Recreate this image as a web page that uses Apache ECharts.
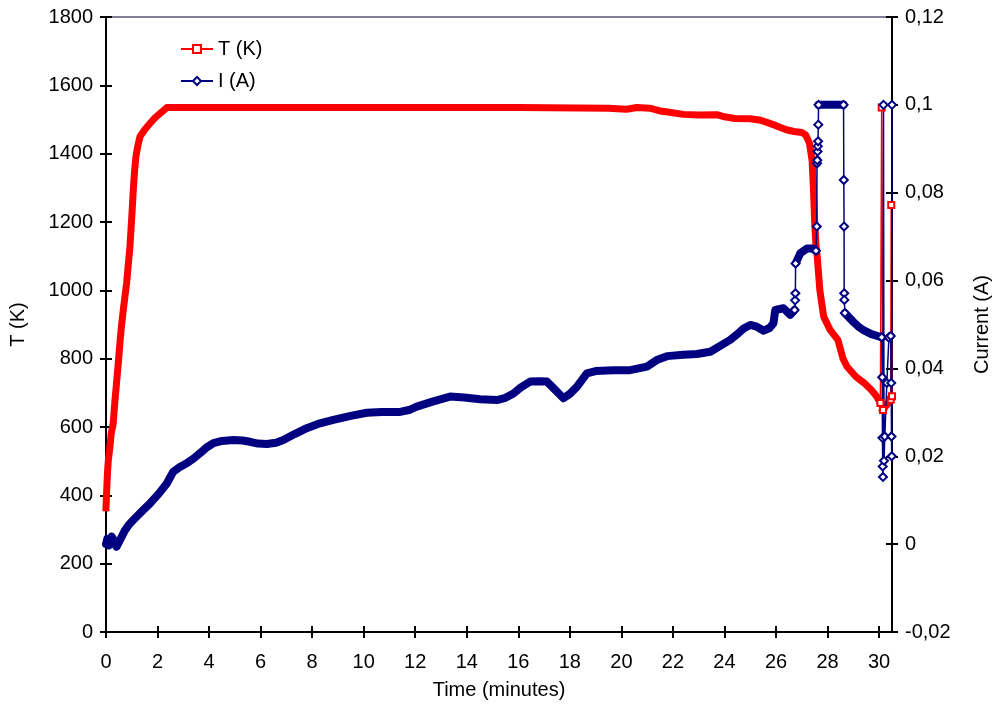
<!DOCTYPE html>
<html>
<head>
<meta charset="utf-8">
<script src="https://cdn.jsdelivr.net/npm/echarts@6/dist/echarts.min.js"></script>
<style>
  html, body { margin: 0; padding: 0; background: #fff; }
  #chart { width: 997px; height: 707px; }
</style>
</head>
<body>
<div id="chart"></div>
<script>
// Temperature record, time in minutes and T in kelvin
const tempTime = [0.00, 0.03, 0.06, 0.09, 0.15, 0.20, 0.28, 0.35, 0.41, 0.48, 0.54, 0.60, 0.67, 0.74, 0.80, 0.87, 0.93,
  1.00, 1.06, 1.11, 1.16, 1.24, 1.32, 1.50, 1.71, 1.90, 2.10, 2.36, 4.00, 8.00, 12.00, 16.00, 19.50, 20.20, 20.60,
  21.10, 21.50, 21.80, 22.40, 23.00, 23.70, 24.00, 24.40, 25.00, 25.40, 25.70, 26.00, 26.40, 26.70, 27.00, 27.15,
  27.30, 27.40, 27.45, 27.50, 27.55, 27.60, 27.70, 27.85, 28.10, 28.40, 28.60, 28.75, 29.10, 29.40, 29.70, 29.90,
  30.05, 30.10, 30.15, 30.30, 30.45, 30.47, 30.50];
const tempK = [363, 420, 470, 503, 540, 580, 611, 680, 729, 790, 846, 895, 942, 985, 1021, 1080, 1128,
  1215, 1294, 1350, 1391, 1425, 1450, 1470, 1489, 1505, 1518, 1535, 1535, 1535, 1535, 1535, 1533, 1530, 1535,
  1533, 1525, 1522, 1515, 1513, 1514, 1508, 1503, 1502, 1498, 1490, 1482, 1470, 1465, 1462, 1455,
  1430, 1380, 1300, 1200, 1130, 1098, 1000, 923, 884, 855, 800, 777, 747, 730, 708, 690,
  670, 1535, 650, 665, 680, 1250, 690];

// Current record, time in minutes and I in ampere
const currTime = [0.00, 0.05, 0.12, 0.22, 0.32, 0.41, 0.55, 0.74, 0.90, 1.06, 1.40, 1.71, 2.05, 2.36, 2.61, 2.85,
  3.13, 3.40, 3.65, 3.90, 4.17, 4.50, 4.94, 5.30, 5.59, 5.90, 6.24, 6.60, 6.88, 7.30, 7.79, 8.30, 8.82, 9.50,
  10.12, 10.70, 11.41, 11.80, 12.06, 12.70, 13.35, 13.90, 14.52, 15.17, 15.50, 15.81, 16.10, 16.46, 16.80, 17.11,
  17.45, 17.75, 18.00, 18.27, 18.66, 19.00, 19.69, 20.34, 20.99, 21.40, 21.77, 22.40, 22.93, 23.45, 23.85, 24.22,
  24.50, 24.74, 25.00, 25.25, 25.52, 25.75, 25.90, 25.97, 26.29, 26.55, 26.67, 26.72, 26.74, 26.75, 26.76, 26.94,
  27.20, 27.40, 27.55, 27.58, 27.59, 27.60, 27.61, 27.62, 27.63, 27.64, 27.65, 28.00, 28.62, 28.63, 28.64, 28.645,
  28.65, 28.67, 29.00, 29.20, 29.40, 29.70, 30.03, 30.10, 30.12, 30.13, 30.14, 30.15, 30.17, 30.19, 30.22, 30.30,
  30.38, 30.45, 30.47, 30.48, 30.49, 30.50];
const currA = [0.0000, 0.0012, -0.0003, 0.0017, 0.0008, -0.0006, 0.0010, 0.0032, 0.0045, 0.0055, 0.0075, 0.0093, 0.0115, 0.0138, 0.0165, 0.0175,
  0.0184, 0.0195, 0.0207, 0.0220, 0.0230, 0.0235, 0.0237, 0.0236, 0.0233, 0.0229, 0.0228, 0.0231, 0.0237, 0.0250, 0.0264, 0.0275, 0.0283, 0.0292,
  0.0299, 0.0301, 0.0301, 0.0306, 0.0313, 0.0325, 0.0336, 0.0334, 0.0330, 0.0328, 0.0333, 0.0343, 0.0357, 0.0370, 0.0371, 0.0370,
  0.0350, 0.0332, 0.0342, 0.0358, 0.0389, 0.0394, 0.0396, 0.0396, 0.0404, 0.0420, 0.0428, 0.0431, 0.0433, 0.0438, 0.0452, 0.0465,
  0.0478, 0.0491, 0.0499, 0.0495, 0.0486, 0.0492, 0.0503, 0.0533, 0.0537, 0.0522, 0.0530, 0.0533, 0.0555, 0.0571, 0.0639, 0.0662,
  0.0673, 0.0673, 0.0668, 0.0723, 0.0867, 0.0874, 0.0894, 0.0906, 0.0917, 0.0955, 0.1000, 0.1000, 0.1000, 0.0829, 0.0723, 0.0571,
  0.0556, 0.0526, 0.0506, 0.0495, 0.0487, 0.0478, 0.0472, 0.0471, 0.0380, 0.0242, 0.0177, 0.0153, 0.1000, 0.0190, 0.0245, 0.0367,
  0.0470, 0.0474, 0.0367, 0.0245, 0.0200, 0.1000];

// Axis ticks
const timeTicks = { min: 0, max: 30.5, step: 2 };
const tempTicks = { min: 0, max: 1800, step: 200 };
const currTicks = { min: -0.02, max: 0.12, step: 0.02 };

// Densely logged stretches are drawn as a solid band; fast jumps, where the
// logger points are spread out, are drawn as a thin line with open markers.
function isFast(xs, ys, i, rate) {
  return Math.abs(ys[i + 1] - ys[i]) / (xs[i + 1] - xs[i]) > rate;
}
function collectSteps(xs, ys, keepStep) {
  const out = [];
  let last = -2;
  for (let i = 0; i < xs.length - 1; i++) {
    if (!keepStep(i)) continue;
    if (last !== i) {
      if (out.length) out.push([xs[i], '-']);
      out.push([xs[i], ys[i]]);
    }
    out.push([xs[i + 1], ys[i + 1]]);
    last = i + 1;
  }
  return out;
}
const TEMP_RATE = 5000;   // K per minute
const CURR_RATE = 0.1;    // A per minute
const tempBand = collectSteps(tempTime, tempK, i => !isFast(tempTime, tempK, i, TEMP_RATE));
const tempJump = collectSteps(tempTime, tempK, i => isFast(tempTime, tempK, i, TEMP_RATE));
const currBand = collectSteps(currTime, currA, i => !isFast(currTime, currA, i, CURR_RATE));
const currJump = collectSteps(currTime, currA, i => isFast(currTime, currA, i, CURR_RATE));

const FONT = 'Liberation Sans, Arial, sans-serif';
const RED = '#ff0000';
const NAVY = '#000080';

function fmtComma(v) {
  const r = Math.round(v * 100) / 100;
  return String(r).replace('.', ',');
}

const axisLine = { show: true, onZero: false, lineStyle: { color: '#000', width: 2 } };
const noLine = { show: false, onZero: false };
const tickOut = { show: true, inside: false, length: 6, lineStyle: { color: '#000', width: 2 } };
const tickIn = { show: true, inside: true, length: 6, lineStyle: { color: '#000', width: 2 } };
const labelStyle = { color: '#000', fontSize: 20, fontFamily: FONT };

function xAx(main) {
  return {
    type: 'value', position: 'bottom',
    min: timeTicks.min, max: timeTicks.max, interval: timeTicks.step,
    axisLine: main ? axisLine : noLine,
    axisTick: main ? tickOut : tickIn,
    axisLabel: main ? Object.assign({ margin: 20, showMaxLabel: false }, labelStyle) : { show: false },
    splitLine: { show: false },
    name: main ? 'Time (minutes)' : '',
    nameLocation: 'middle', nameGap: 48,
    nameTextStyle: labelStyle
  };
}
function yAx(pos, ticks, main, name, fmt, gap) {
  return {
    type: 'value', position: pos,
    min: ticks.min, max: ticks.max, interval: ticks.step,
    axisLine: main ? axisLine : noLine,
    axisTick: main ? tickOut : tickIn,
    axisLabel: main ? Object.assign({ margin: 13, formatter: fmt }, labelStyle) : { show: false },
    splitLine: { show: false },
    name: main ? name : '',
    nameLocation: 'middle', nameRotate: 90, nameGap: gap,
    nameTextStyle: labelStyle
  };
}

const chart = echarts.init(document.getElementById('chart'), null, { renderer: 'canvas' });
chart.setOption({
  animation: false,
  backgroundColor: '#fff',
  grid: {
    left: 106, right: 105, top: 17, bottom: 75,
    outerBoundsMode: 'none', containLabel: false,
    show: true, borderColor: '#80809a', borderWidth: 2, backgroundColor: 'transparent'
  },
  legend: {
    data: ['T (K)', 'I (A)'],
    orient: 'vertical',
    left: 180, top: 39, padding: 0,
    itemWidth: 32, itemHeight: 10, itemGap: 12,
    textStyle: { color: '#000', fontSize: 20, fontFamily: FONT, lineHeight: 20 }
  },
  xAxis: [xAx(true), xAx(false)],
  yAxis: [
    yAx('left', tempTicks, true, 'T (K)', v => String(v), 78),
    yAx('right', currTicks, true, 'Current (A)', fmtComma, 80),
    yAx('left', tempTicks, false),
    yAx('right', currTicks, false)
  ],
  series: [
    {
      name: 'T (K)', type: 'line', xAxisIndex: 0, yAxisIndex: 0,
      data: tempJump, connectNulls: false,
      symbol: 'emptyRect', symbolSize: 6, showSymbol: true, showAllSymbol: true,
      lineStyle: { color: RED, width: 1.5 },
      itemStyle: { color: RED, borderColor: RED, borderWidth: 1.5 }
    },
    {
      name: 'T (K)', type: 'line', xAxisIndex: 0, yAxisIndex: 0,
      data: tempBand, connectNulls: false,
      symbol: 'none', showSymbol: false,
      lineStyle: { color: RED, width: 7, cap: 'square', join: 'round' },
      itemStyle: { color: RED }
    },
    {
      name: 'I (A)', type: 'line', xAxisIndex: 0, yAxisIndex: 1,
      data: currJump, connectNulls: false,
      symbol: 'emptyDiamond', symbolSize: 8, showSymbol: true, showAllSymbol: true,
      lineStyle: { color: NAVY, width: 1.5 },
      itemStyle: { color: NAVY, borderColor: NAVY, borderWidth: 1.5 }
    },
    {
      name: 'I (A)', type: 'line', xAxisIndex: 0, yAxisIndex: 1,
      data: currBand, connectNulls: false,
      symbol: 'none', showSymbol: false,
      lineStyle: { color: NAVY, width: 8, cap: 'round', join: 'round' },
      itemStyle: { color: NAVY }
    }
  ]
});
</script>
</body>
</html>
